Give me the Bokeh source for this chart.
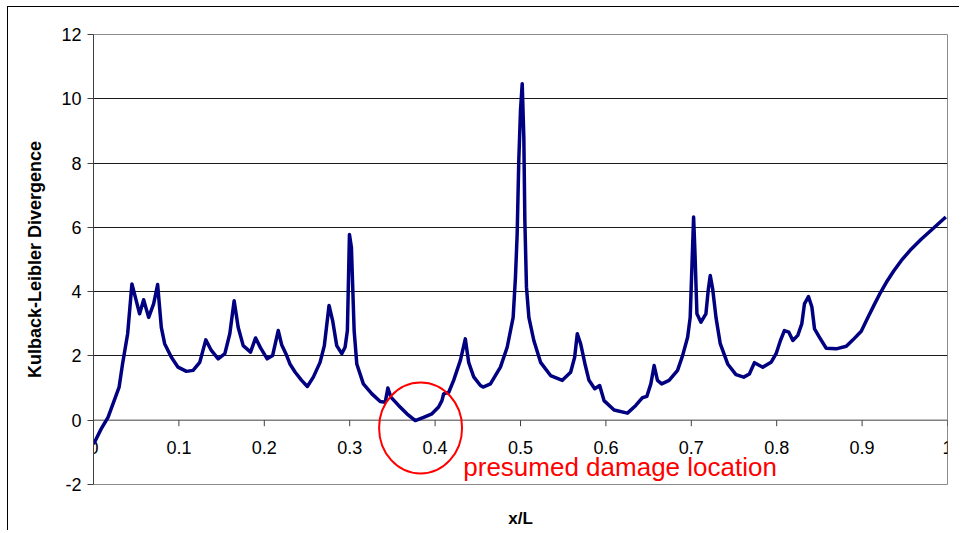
import math
from bokeh.plotting import figure
from bokeh.models import Span, FixedTicker
from bokeh.core.properties import value
from bokeh.embed import file_html
from bokeh.resources import INLINE

# --- data ---
x_pos = [0.0, 0.009, 0.017, 0.030, 0.034, 0.040, 0.045, 0.054, 0.0587, 0.0646,
         0.0704, 0.0751, 0.0794, 0.0833, 0.0912, 0.099, 0.1088, 0.1166, 0.1244, 0.1315,
         0.138, 0.146, 0.1538, 0.1596, 0.1647, 0.1694, 0.1753, 0.1839, 0.1898, 0.1956,
         0.2034, 0.2097, 0.2163, 0.2203, 0.2261, 0.230, 0.236, 0.2437, 0.2504, 0.2574,
         0.2653, 0.2703, 0.2758, 0.280, 0.2848, 0.2907, 0.2946, 0.2973, 0.2997, 0.302,
         0.3052, 0.3083, 0.316, 0.326, 0.3357, 0.3416, 0.3447, 0.3482, 0.3572, 0.367,
         0.3768, 0.3865, 0.3963, 0.4041, 0.408, 0.410, 0.416, 0.4217, 0.4296, 0.4354,
         0.4393, 0.4452, 0.4531, 0.4562, 0.4648, 0.4765, 0.4844, 0.4914, 0.4941, 0.4961,
         0.498, 0.500, 0.502, 0.5039, 0.5051, 0.507, 0.5098, 0.5156, 0.5235, 0.5352,
         0.549, 0.5587, 0.5634, 0.5665, 0.5704, 0.5755, 0.5802, 0.5869, 0.5927, 0.5978,
         0.6096, 0.6252, 0.635, 0.6428, 0.6479, 0.6526, 0.6565, 0.6604, 0.6653, 0.674,
         0.6839, 0.6898, 0.6957, 0.6987, 0.7007, 0.7027, 0.7042, 0.7066, 0.7113, 0.7171,
         0.7198, 0.7222, 0.725, 0.7289, 0.7339, 0.7426, 0.7523, 0.7614, 0.768, 0.7739,
         0.7837, 0.7934, 0.7993, 0.8044, 0.809, 0.8142, 0.8189, 0.8247, 0.8294, 0.8325,
         0.8372, 0.8412, 0.8443, 0.8501, 0.858, 0.8697, 0.8815, 0.8893, 0.899, 0.9069,
         0.9147, 0.9217, 0.9284, 0.9374, 0.946, 0.9577, 0.9695, 0.9812, 0.998]
kl_div = [-0.75, -0.27, 0.09, 1.03, 1.75, 2.69, 4.24, 3.31, 3.75, 3.2,
          3.62, 4.22, 2.89, 2.38, 1.96, 1.65, 1.52, 1.55, 1.8, 2.5,
          2.17, 1.91, 2.07, 2.69, 3.72, 2.89, 2.32, 2.12, 2.56, 2.25,
          1.91, 2.01, 2.79, 2.35, 2.02, 1.75, 1.5, 1.24, 1.05, 1.34,
          1.8, 2.32, 3.57, 3.1, 2.32, 2.07, 2.27, 2.79, 5.78, 5.38,
          2.79, 1.75, 1.13, 0.82, 0.58, 0.56, 1.0, 0.72, 0.46, 0.2,
          -0.01, 0.09, 0.2, 0.41, 0.61, 0.82, 0.87, 1.24, 1.86, 2.53,
          1.8, 1.35, 1.08, 1.03, 1.13, 1.65, 2.27, 3.2, 4.45, 5.8,
          8.08, 9.64, 10.47, 8.8, 6.21, 4.14, 3.2, 2.48, 1.8, 1.39,
          1.24, 1.49, 1.96, 2.69, 2.38, 1.75, 1.24, 0.98, 1.08, 0.61,
          0.32, 0.22, 0.46, 0.7, 0.74, 1.13, 1.7, 1.24, 1.13, 1.24,
          1.55, 2.01, 2.58, 3.2, 4.76, 6.32, 5.28, 3.31, 3.05, 3.31,
          4.04, 4.5, 4.09, 3.2, 2.38, 1.75, 1.42, 1.34, 1.44, 1.79,
          1.65, 1.8, 2.07, 2.48, 2.79, 2.74, 2.48, 2.64, 3.0, 3.62,
          3.85, 3.52, 2.84, 2.58, 2.24, 2.22, 2.3, 2.5, 2.77, 3.2,
          3.62, 3.98, 4.29, 4.66, 4.97, 5.33, 5.64, 5.92, 6.32]

y_ticks = [-2, 0, 2, 4, 6, 8, 10, 12]
y_tick_labels = ["-2", "0", "2", "4", "6", "8", "10", "12"]
grid_levels = [2, 4, 6, 8, 10, 12]
x_ticks = [0, 0.1, 0.2, 0.3, 0.4, 0.5, 0.6, 0.7, 0.8, 0.9, 1.0]
x_tick_labels = ["0", "0.1", "0.2", "0.3", "0.4", "0.5", "0.6", "0.7", "0.8", "0.9", "1"]

circle_x = [0.383]
circle_y = [-0.24]
note_x = [0.433]
note_y = [-1.44]
note_text = ["presumed damage location"]

FONT = "Liberation Sans"

p = figure(width=952, height=524, x_range=(0, 1), y_range=(-2, 12),
           output_backend="svg", toolbar_location=None,
           min_border_left=85, min_border_right=13, min_border_top=27, min_border_bottom=47)
p.styles = {"border-left": "1px solid #000000", "border-top": "1px solid #000000",
            "margin-left": "7px", "margin-top": "6px"}
p.background_fill_color = "white"
p.border_fill_color = "white"
p.outline_line_color = "#8c8c8c"
p.outline_line_width = 1

# grid
p.xgrid.visible = False
p.ygrid.ticker = FixedTicker(ticks=grid_levels)
p.ygrid.grid_line_color = "#1a1a1a"
p.ygrid.grid_line_width = 1

# y axis
p.yaxis.ticker = FixedTicker(ticks=y_ticks)
p.yaxis.major_label_overrides = {t: s for t, s in zip(y_ticks, y_tick_labels)}
p.yaxis.axis_line_color = "#404040"
p.yaxis.major_tick_line_color = "#404040"
p.yaxis.major_tick_out = 6
p.yaxis.major_tick_in = 0
p.yaxis.minor_tick_line_color = None
p.yaxis.major_label_standoff = 6
p.yaxis.major_label_text_font = FONT
p.yaxis.major_label_text_font_size = "18px"
p.yaxis.major_label_text_color = "black"
p.yaxis.axis_label = "Kulback-Leibler Divergence"
p.yaxis.axis_label_text_font = FONT
p.yaxis.axis_label_text_font_size = "18px"
p.yaxis.axis_label_text_font_style = "bold"
p.yaxis.axis_label_text_color = "black"
p.yaxis.axis_label_standoff = 13

# x axis (only its title at the bottom; the real axis sits at y = 0)
p.xaxis.ticker = FixedTicker(ticks=[])
p.xaxis.axis_line_color = None
p.xaxis.major_tick_line_color = None
p.xaxis.minor_tick_line_color = None
p.xaxis.major_label_text_font_size = "0px"
p.xaxis.axis_label = "x/L"
p.xaxis.axis_label_text_font = FONT
p.xaxis.axis_label_text_font_size = "17px"
p.xaxis.axis_label_text_font_style = "bold"
p.xaxis.axis_label_text_color = "black"
p.xaxis.axis_label_standoff = 24

zero_line = Span(location=0, dimension="width", line_color="#808080", line_width=1.5, level="underlay")
p.add_layout(zero_line)

p.ray(x=x_ticks, y=[0] * len(x_ticks), length=6, length_units="screen",
      angle=-math.pi / 2, line_color="#404040", line_width=1)
p.text(x=x_ticks, y=[0] * len(x_ticks), text=x_tick_labels, text_align="center",
       text_baseline="middle", y_offset=27, text_font=value(FONT),
       text_font_size="18px", text_color="black")

p.line(x_pos, kl_div, line_color="#000080", line_width=3.5, line_join="round")

p.ellipse(x=circle_x, y=circle_y, width=83, height=91, width_units="screen",
          height_units="screen", fill_color=None, line_color="#ff0000", line_width=2)
p.text(x=note_x, y=note_y, text=note_text, text_align="left", text_baseline="middle",
       text_font=value(FONT), text_font_size="26px", text_color="#ff0000")

open("out.html", "w").write(file_html(p, INLINE))
